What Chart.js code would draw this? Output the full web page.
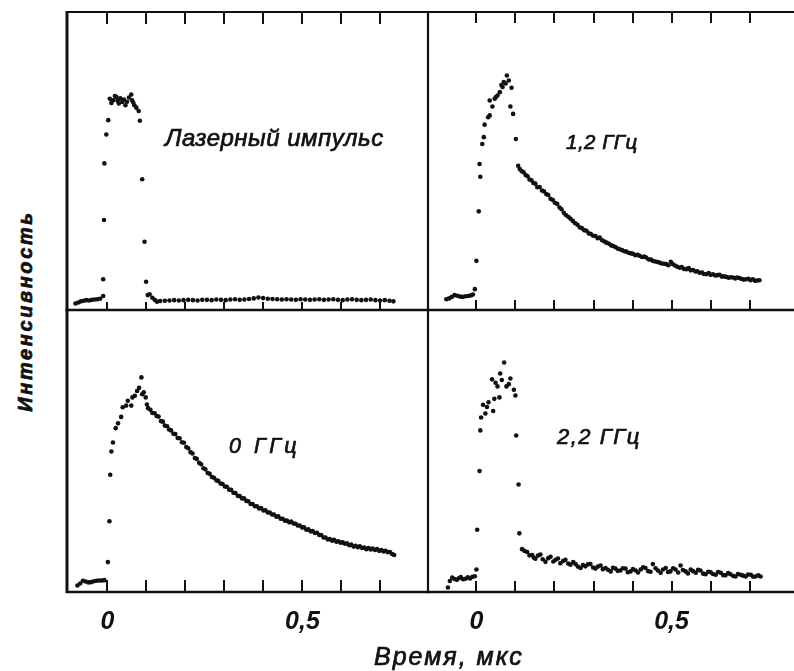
<!DOCTYPE html>
<html lang="ru"><head><meta charset="utf-8">
<title>Интенсивность — Время, мкс</title>
<script src="https://cdn.jsdelivr.net/npm/chart.js@4.4.1/dist/chart.umd.min.js"></script>
<style>
html,body{margin:0;padding:0;background:#fff;}
#fig{position:relative;width:794px;height:671px;overflow:hidden;background:#fff;}
#fig canvas{position:absolute;}
.t{position:absolute;white-space:nowrap;line-height:1;color:#111;font-family:'Liberation Sans',Arimo,sans-serif;font-style:italic;-webkit-text-stroke:0.7px #111;}
</style></head><body>
<div id="fig">
<canvas id="cTL"></canvas><canvas id="cTR"></canvas><canvas id="cBL"></canvas><canvas id="cBR"></canvas>
<div class="t" style="left:165px;top:126px;font-size:24px;letter-spacing:0.5px">Лазерный импульс</div>
<div class="t" style="left:566px;top:132px;font-size:20.5px;letter-spacing:0.5px">1,2 ГГц</div>
<div class="t" style="left:229px;top:436px;font-size:21.5px;letter-spacing:3.5px">0 ГГц</div>
<div class="t" style="left:557px;top:426px;font-size:22px;letter-spacing:1.5px">2,2 ГГц</div>
<div class="t" style="left:374px;top:644px;font-size:25px;letter-spacing:2px">Время, мкс</div>
<div class="t" style="left:-95px;top:301px;width:240px;text-align:center;font-size:20px;font-weight:bold;letter-spacing:2.6px;transform:rotate(-90deg);">Интенсивность</div>
</div>
<script>
// ---- data (time in µs, intensity in arbitrary units 0..100) ----
const tickValues = [0, 0.1, 0.2, 0.3, 0.4, 0.5, 0.6, 0.7];
const tickLabels = ['0', '', '', '', '', '0,5', '', ''];

const laserPulse = [
 [-0.082,2.2],[-0.075,2.5],[-0.068,2.9],[-0.061,3.1],[-0.054,3.3],[-0.047,3.2],[-0.040,3.4],[-0.033,3.5],[-0.026,3.6],[-0.019,3.8],
 [-0.011,4.7],[-0.011,10.3],[-0.009,30.2],[-0.008,49.2],[-0.003,58.9],[0.002,63.7],
 [0.006,70.9],[0.010,69.5],[0.015,70.4],[0.019,71.8],[0.023,71.5],[0.026,70.2],[0.029,69.3],[0.033,71.0],[0.038,69.8],[0.042,70.6],[0.046,68.7],[0.050,69.9],[0.055,71.3],[0.061,72.3],[0.063,70.4],[0.066,69.6],[0.069,68.7],[0.074,67.9],[0.080,66.8],
 [0.083,63.5],[0.089,43.9],[0.095,22.9],[0.099,9.5],[0.103,5.0],
 [0.108,5.3],[0.115,4.1],[0.121,3.4],[0.127,2.8],
 [0.135,3.0],[0.147,3.1],[0.159,3.2],[0.171,3.3],[0.183,3.2],[0.195,3.3],[0.207,3.4],[0.219,3.3],[0.231,3.2],[0.243,3.4],
 [0.255,3.4],[0.267,3.3],[0.279,3.5],[0.291,3.4],[0.303,3.3],[0.315,3.5],[0.327,3.6],[0.339,3.4],[0.351,3.5],[0.363,3.7],
 [0.375,3.9],[0.387,4.2],[0.399,4.0],[0.411,3.8],[0.423,3.7],[0.435,3.6],[0.447,3.5],[0.459,3.6],[0.471,3.5],[0.483,3.4],
 [0.495,3.6],[0.507,3.5],[0.519,3.4],[0.531,3.5],[0.543,3.6],[0.555,3.4],[0.567,3.5],[0.579,3.6],[0.591,3.4],[0.603,3.3],
 [0.615,3.5],[0.627,3.6],[0.639,3.4],[0.651,3.3],[0.663,3.4],[0.675,3.5],[0.687,3.3],[0.699,3.2],[0.711,3.3],[0.723,3.1],[0.733,2.9]
];

const ghz12 = [
 [-0.077,3.6],[-0.070,3.9],[-0.063,4.4],[-0.056,5.0],[-0.049,4.8],[-0.042,4.5],[-0.035,4.4],[-0.028,4.6],[-0.021,4.7],[-0.014,4.9],[-0.009,5.2],
 [-0.004,7.0],[0.000,16.5],[0.006,33.1],[0.008,49.0],[0.010,44.7],[0.015,55.7],[0.019,58.0],[0.021,62.2],[0.030,64.7],[0.034,65.3],[0.034,70.3],
 [0.041,68.3],[0.047,70.9],[0.050,71.5],[0.054,72.0],[0.060,73.1],[0.064,75.5],[0.067,74.8],[0.070,76.5],[0.075,76.0],[0.078,78.7],[0.083,77.0],
 [0.090,74.6],[0.087,68.3],[0.094,65.8],[0.101,57.4],[0.107,48.4],
 [0.111,47.3],[0.116,46.6],[0.121,46.2],[0.126,45.3],[0.131,44.9],[0.136,43.8],[0.141,43.5],[0.146,42.6],[0.151,42.4],[0.156,41.2],
 [0.162,41.3],[0.168,40.1],[0.173,39.8],[0.179,38.9],[0.184,38.6],[0.190,37.3],[0.196,36.9],[0.201,36.0],[0.207,35.6],[0.213,34.4],
 [0.218,33.8],[0.224,32.6],[0.230,31.8],[0.236,31.2],[0.241,30.6],[0.247,29.9],[0.253,29.1],[0.259,28.6],[0.265,27.7],[0.270,27.5],
 [0.276,26.8],[0.282,26.6],[0.288,25.7],[0.293,25.5],[0.299,24.9],[0.305,24.8],[0.311,24.1],[0.316,24.3],[0.322,23.4],[0.328,23.0],
 [0.333,22.6],[0.339,22.3],[0.345,21.7],[0.350,21.5],[0.356,21.1],[0.362,20.6],[0.367,20.4],[0.373,20.1],[0.379,19.7],[0.384,19.6],
 [0.390,19.2],[0.396,19.0],[0.401,18.9],[0.407,18.4],[0.413,18.5],[0.418,18.2],[0.424,17.8],[0.430,17.9],[0.435,17.6],[0.441,17.0],
 [0.447,16.9],[0.452,16.5],[0.458,16.3],[0.464,16.1],[0.469,15.9],[0.475,15.6],[0.481,15.5],[0.486,15.4],[0.492,15.0],[0.498,16.2],
 [0.503,15.4],[0.509,14.9],[0.515,14.5],[0.521,14.2],[0.526,14.4],[0.532,13.8],[0.538,13.7],[0.544,14.1],[0.549,13.3],[0.555,13.4],
 [0.561,12.9],[0.566,13.0],[0.572,12.5],[0.578,12.6],[0.583,12.1],[0.589,12.0],[0.595,12.4],[0.600,11.8],[0.606,12.0],[0.612,11.6],
 [0.617,11.7],[0.623,11.8],[0.629,11.2],[0.634,11.3],[0.640,11.1],[0.646,10.8],[0.651,11.0],[0.657,10.9],[0.663,10.6],[0.668,10.9],
 [0.674,10.7],[0.680,10.4],[0.685,10.2],[0.691,10.3],[0.697,10.5],[0.702,10.0],[0.708,10.3],[0.714,9.8],[0.719,9.9],[0.725,10.0]
];

const ghz0 = [
 [-0.077,2.3],[-0.070,3.0],[-0.063,4.0],[-0.056,3.7],[-0.049,3.4],[-0.042,3.5],[-0.035,3.8],[-0.028,4.0],[-0.021,4.1],[-0.014,4.1],[-0.008,4.2],
 [0.001,10.6],[0.005,25.1],[0.007,41.6],[0.010,49.8],[0.014,53.0],[0.021,58.1],[0.027,59.8],[0.035,62.1],[0.039,65.5],[0.048,66.1],
 [0.052,67.8],[0.061,66.1],[0.064,69.0],[0.070,69.6],[0.076,71.3],[0.081,72.4],[0.087,76.1],[0.089,70.1],[0.093,70.8],[0.098,69.0],[0.101,66.5],
 [0.104,65.2],[0.110,64.6],[0.115,63.5],[0.121,63.4],[0.126,62.4],[0.131,62.2],[0.137,60.6],[0.142,60.4],[0.147,59.0],[0.153,58.8],
 [0.158,57.6],[0.163,57.3],[0.169,56.1],[0.174,56.0],[0.180,54.6],[0.185,54.5],[0.191,53.1],[0.196,52.9],[0.202,51.4],[0.207,51.0],
 [0.213,49.6],[0.218,49.1],[0.224,47.5],[0.229,47.2],[0.235,45.8],[0.240,45.3],[0.246,43.9],[0.251,43.5],[0.257,42.2],[0.262,41.9],
 [0.268,40.8],[0.273,40.5],[0.279,39.6],[0.284,39.4],[0.290,38.5],[0.295,38.3],[0.301,37.4],[0.306,37.3],[0.312,36.3],[0.317,36.2],
 [0.323,35.2],[0.328,35.1],[0.334,34.1],[0.339,34.0],[0.345,33.2],[0.350,33.2],[0.356,32.3],[0.361,32.2],[0.367,31.2],[0.372,31.2],
 [0.378,30.4],[0.383,30.4],[0.389,29.6],[0.394,29.8],[0.400,28.9],[0.405,29.0],[0.411,28.2],[0.416,28.2],[0.422,27.5],[0.427,27.5],
 [0.433,26.7],[0.438,26.8],[0.444,26.0],[0.449,26.0],[0.455,25.3],[0.460,25.3],[0.466,24.7],[0.471,25.0],[0.477,24.3],[0.482,24.2],
 [0.488,23.6],[0.493,23.6],[0.499,22.9],[0.504,22.9],[0.510,22.1],[0.515,22.2],[0.521,21.5],[0.526,21.6],[0.532,20.9],[0.537,21.0],
 [0.543,20.2],[0.548,20.2],[0.554,19.3],[0.559,19.3],[0.565,18.6],[0.570,18.8],[0.576,18.2],[0.581,18.5],[0.587,17.8],[0.592,18.0],
 [0.598,17.5],[0.603,17.6],[0.609,17.1],[0.614,17.3],[0.620,16.6],[0.625,16.8],[0.631,16.1],[0.636,16.4],[0.642,15.9],[0.647,16.2],
 [0.653,15.6],[0.658,15.8],[0.664,15.2],[0.669,15.6],[0.675,15.1],[0.680,15.4],[0.686,14.9],[0.691,15.2],[0.697,14.6],[0.702,14.9],
 [0.708,14.4],[0.713,14.6],[0.719,14.1],[0.724,14.2],[0.730,13.5],[0.735,13.1]
];

const ghz22 = [
 [-0.073,1.6],[-0.068,3.9],[-0.062,5.1],[-0.056,4.6],[-0.050,4.3],[-0.045,4.9],[-0.040,5.3],[-0.034,4.5],[-0.028,4.7],[-0.022,5.2],[-0.016,4.8],[-0.010,5.4],[-0.004,5.6],
 [0.000,8.0],[0.002,22.1],[0.008,42.9],[0.010,57.3],[0.012,61.9],[0.017,66.4],[0.023,63.3],[0.027,65.6],[0.031,67.3],[0.043,64.2],[0.046,68.5],[0.059,69.0],
 [0.040,75.4],[0.049,74.2],[0.054,72.9],[0.061,77.5],[0.065,75.2],[0.071,81.4],[0.077,72.9],[0.083,73.7],[0.087,75.7],[0.096,71.7],[0.100,69.7],
 [0.102,55.5],[0.108,38.1],[0.110,20.8],
 [0.117,15.2],[0.123,14.6],[0.130,14.2],[0.136,13.0],[0.143,13.1],[0.147,12.2],[0.151,11.8],[0.158,12.9],[0.164,13.3],[0.170,11.6],
 [0.177,10.7],[0.184,12.0],[0.190,12.5],[0.197,10.8],[0.203,11.4],[0.209,11.9],[0.215,10.2],[0.222,11.0],[0.228,11.4],[0.235,10.1],
 [0.241,9.7],[0.248,10.6],[0.254,9.9],[0.260,9.0],[0.267,8.5],[0.273,9.6],[0.279,9.1],[0.286,9.8],[0.292,9.9],[0.299,8.7],
 [0.305,8.3],[0.311,9.0],[0.318,9.4],[0.324,8.1],[0.331,8.5],[0.337,7.9],[0.344,7.3],[0.350,8.6],[0.356,8.3],[0.362,7.5],
 [0.369,7.6],[0.375,8.4],[0.382,8.3],[0.388,7.0],[0.395,7.3],[0.401,8.1],[0.408,7.6],[0.414,6.9],[0.421,8.0],[0.427,8.8],
 [0.433,8.5],[0.440,7.4],[0.446,7.2],[0.452,9.9],[0.459,8.4],[0.465,7.6],[0.472,6.8],[0.478,8.0],[0.485,8.5],[0.491,7.1],
 [0.497,7.3],[0.504,8.4],[0.510,8.0],[0.517,6.9],[0.523,9.4],[0.529,7.8],[0.536,7.3],[0.542,6.6],[0.549,8.0],[0.555,7.4],
 [0.562,6.8],[0.568,7.9],[0.574,7.6],[0.581,6.5],[0.587,6.3],[0.594,7.2],[0.600,7.0],[0.606,6.4],[0.613,6.1],[0.619,7.1],
 [0.626,6.8],[0.632,6.0],[0.638,5.9],[0.645,6.7],[0.651,6.3],[0.658,5.7],[0.664,5.5],[0.670,6.4],[0.677,6.1],[0.683,5.8],
 [0.690,5.5],[0.696,6.2],[0.703,6.1],[0.709,5.4],[0.715,5.5],[0.722,5.9],[0.728,5.5]
];

// ---- layout ----
const INK = '#111';
const tickFont = {family: "'Liberation Sans Narrow','Liberation Sans',sans-serif", size: 25, style: 'italic', weight: 'bold', lineHeight: 1};
const TICK_PAD = 10;

const panels = [
 {id:'cTL', data: laserPulse, area:{l:67,t:12,r:428,b:310}, xMin:-0.1038, xMax:0.8218, topTick:12, botTick:8,  labels:false, leftW:3},
 {id:'cTR', data: ghz12,      area:{l:428,t:12,r:800,b:310}, xMin:-0.124,  xMax:0.829,  topTick:11, botTick:10, labels:false, leftW:2},
 {id:'cBL', data: ghz0,       area:{l:67,t:310,r:428,b:600}, xMin:-0.1038, xMax:0.8218, topTick:0,  botTick:12, labels:true,  leftW:3},
 {id:'cBR', data: ghz22,      area:{l:428,t:310,r:800,b:600}, xMin:-0.124, xMax:0.829,  topTick:0,  botTick:11, labels:true,  leftW:2}
];

const framePlugin = {
  id: 'frame',
  afterDatasetsDraw(chart, args, o) {
    const {ctx, chartArea: a} = chart;
    const xs = chart.scales.x;
    ctx.save();
    ctx.strokeStyle = INK;
    ctx.lineCap = 'butt';
    ctx.lineWidth = 2;
    ctx.beginPath();
    tickValues.forEach(v => {
      const px = Math.round(xs.getPixelForValue(v));
      if (o.topTick) { ctx.moveTo(px, a.top); ctx.lineTo(px, a.top + o.topTick); }
      if (o.botTick) { ctx.moveTo(px, a.bottom); ctx.lineTo(px, a.bottom - o.botTick); }
    });
    ctx.stroke();
    const seg = (w, x1, y1, x2, y2) => { ctx.lineWidth = w; ctx.beginPath(); ctx.moveTo(x1, y1); ctx.lineTo(x2, y2); ctx.stroke(); };
    seg(2.2, a.left - 1, a.top, a.right + 1, a.top);
    seg(2.6, a.left - 1, a.bottom, a.right + 1, a.bottom);
    seg(o.leftW, a.left, a.top - 1, a.left, a.bottom + 1);
    seg(2.2, a.right, a.top - 1, a.right, a.bottom + 1);
    ctx.restore();
  }
};

panels.forEach(p => {
  const pad = 10;
  const scaleH = p.labels ? (tickFont.size * tickFont.lineHeight + 2 * TICK_PAD) : 0;
  const cw = p.area.r - p.area.l + 2 * pad;
  const ch = p.area.b - p.area.t + pad + (p.labels ? scaleH : pad);
  const cv = document.getElementById(p.id);
  cv.width = cw; cv.height = ch;
  cv.style.width = cw + 'px'; cv.style.height = ch + 'px';
  cv.style.left = (p.area.l - pad) + 'px'; cv.style.top = (p.area.t - pad) + 'px';
  new Chart(cv, {
    type: 'scatter',
    data: { datasets: [{
      data: p.data.map(([x, y]) => ({x, y})),
      pointRadius: 2.3, pointBackgroundColor: INK, pointBorderColor: INK, pointBorderWidth: 0,
      showLine: false
    }]},
    options: {
      responsive: false, animation: false, devicePixelRatio: 1, events: [],
      layout: { padding: { left: pad, right: pad, top: pad, bottom: p.labels ? 0 : pad } },
      plugins: { legend: { display: false }, tooltip: { enabled: false },
        frame: { topTick: p.topTick, botTick: p.botTick, leftW: p.leftW } },
      scales: {
        x: { type: 'linear', min: p.xMin, max: p.xMax, display: p.labels,
             grid: { display: false }, border: { display: false },
             afterBuildTicks: ax => { ax.ticks = tickValues.map(v => ({value: v})); },
             ticks: { autoSkip: false, maxRotation: 0, minRotation: 0, padding: TICK_PAD, color: INK, font: tickFont,
                      callback: (v, i) => tickLabels[i] } },
        y: { type: 'linear', min: 0, max: 100, display: false }
      }
    },
    plugins: [framePlugin]
  });
});
</script>
</body></html>
